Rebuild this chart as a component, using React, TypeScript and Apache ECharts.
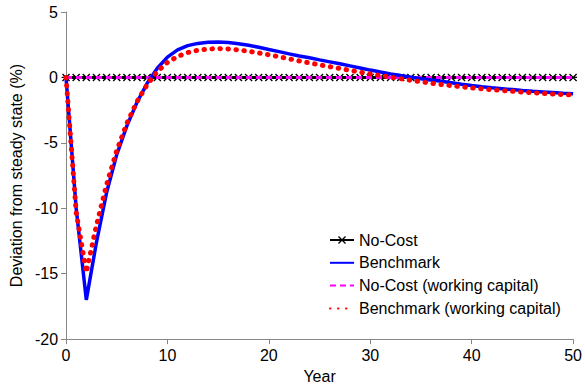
import React, { useEffect, useRef } from "react";
import * as echarts from "echarts";

const years: number[] = Array.from({ length: 51 }, (_, i) => i);

const noCost: number[] = years.map(() => 0);

const benchmark: number[] = [
  0, -10.0, -17.0, -12.6, -8.8, -5.9, -3.7, -1.9, -0.45, 0.7,
  1.55, 2.1, 2.43, 2.6, 2.68, 2.7, 2.67, 2.58, 2.46, 2.3,
  2.13, 1.97, 1.8, 1.64, 1.5, 1.34, 1.19, 1.04, 0.88, 0.72,
  0.56, 0.41, 0.27, 0.14, 0.02, -0.1, -0.2, -0.3, -0.4, -0.52,
  -0.62, -0.71, -0.79, -0.86, -0.93, -1.0, -1.06, -1.11, -1.16, -1.21,
  -1.25,
];

const noCostWC: number[] = years.map(() => 0);

const benchmarkWC: number[] = [
  0, -10.3, -14.9, -11.3, -8.2, -5.6, -3.5, -1.85, -0.55, 0.45,
  1.15, 1.6, 1.9, 2.08, 2.17, 2.2, 2.18, 2.1, 2.0, 1.87,
  1.73, 1.58, 1.42, 1.26, 1.11, 0.96, 0.82, 0.68, 0.54, 0.4,
  0.27, 0.14, 0.02, -0.1, -0.22, -0.33, -0.44, -0.54, -0.63, -0.72,
  -0.8, -0.87, -0.94, -1.0, -1.06, -1.12, -1.17, -1.22, -1.27, -1.31,
  -1.35,
];

const seriesNames = [
  "No-Cost",
  "Benchmark",
  "No-Cost (working capital)",
  "Benchmark (working capital)",
];

const FONT = "'Liberation Sans', Arial, sans-serif";

const asterisk =
  "path://M0,4.2 L10,4.2 L10,5.8 L0,5.8 Z M1.2,0 L10,8.8 L8.8,10 L0,1.2 Z M8.8,0 L10,1.2 L1.2,10 L0,8.8 Z";

const pairs = (ys: number[]) => years.map((x, i) => [x, ys[i]]);

export default function App() {
  const ref = useRef<HTMLDivElement>(null);

  useEffect(() => {
    if (!ref.current) return;
    const chart = echarts.init(ref.current, undefined, { renderer: "svg" });
    const axisLine = { lineStyle: { color: "#868686", width: 1 } };
    chart.setOption({
      animation: false,
      backgroundColor: "#fff",
      grid: { left: 62, right: 10, top: 12, bottom: 49 },
      xAxis: {
        type: "value",
        min: 0,
        max: 50,
        interval: 10,
        name: "Year",
        nameLocation: "middle",
        nameGap: 25,
        nameTextStyle: { fontSize: 16, color: "#000", fontFamily: FONT },
        axisLine: { ...axisLine, onZero: false },
        axisTick: { show: true, length: 5, lineStyle: { color: "#868686" } },
        axisLabel: { fontSize: 16, color: "#000", fontFamily: FONT, margin: 8 },
        splitLine: { show: false },
      },
      yAxis: {
        type: "value",
        min: -20,
        max: 5,
        interval: 5,
        name: "Deviation from steady state (%)",
        nameLocation: "middle",
        nameGap: 37,
        nameTextStyle: { fontSize: 16, color: "#000", fontFamily: FONT },
        axisLine: { show: true, ...axisLine },
        axisTick: { show: true, length: 5, lineStyle: { color: "#868686" } },
        axisLabel: { fontSize: 16, color: "#000", fontFamily: FONT, margin: 8 },
        splitLine: { show: false },
      },
      legend: {
        orient: "vertical",
        left: 324,
        top: 227,
        itemWidth: 24,
        itemHeight: 10,
        itemGap: 6.8,
        textStyle: { fontSize: 16, color: "#000", fontFamily: FONT },
        data: [
          { name: seriesNames[0] },
          { name: seriesNames[1], itemStyle: { opacity: 0 } },
          { name: seriesNames[2], itemStyle: { opacity: 0 } },
          { name: seriesNames[3], itemStyle: { opacity: 0 } },
        ],
      },
      series: [
        {
          name: seriesNames[0],
          type: "line",
          data: pairs(noCost),
          symbol: asterisk,
          symbolSize: 8,
          showSymbol: true,
          itemStyle: { color: "#000" },
          lineStyle: { color: "#000", width: 3 },
          z: 2,
        },
        {
          name: seriesNames[1],
          type: "line",
          data: pairs(benchmark),
          showSymbol: false,
          itemStyle: { color: "#0000ff" },
          lineStyle: { color: "#0000ff", width: 3.5 },
          z: 4,
        },
        {
          name: seriesNames[2],
          type: "line",
          data: pairs(noCostWC),
          showSymbol: false,
          itemStyle: { color: "#ff00ff" },
          lineStyle: { color: "#ff00ff", width: 3, type: [6, 4] },
          z: 3,
        },
        {
          name: seriesNames[3],
          type: "line",
          data: pairs(benchmarkWC),
          showSymbol: false,
          itemStyle: { color: "#ff0000" },
          lineStyle: { color: "#ff0000", width: 5, type: [0.5, 7.5], cap: "round" },
          z: 5,
        },
      ],
    });
    return () => chart.dispose();
  }, []);

  return (
    <div
      ref={ref}
      style={{ position: "absolute", left: 0, top: 0, width: 585, height: 389 }}
    />
  );
}
